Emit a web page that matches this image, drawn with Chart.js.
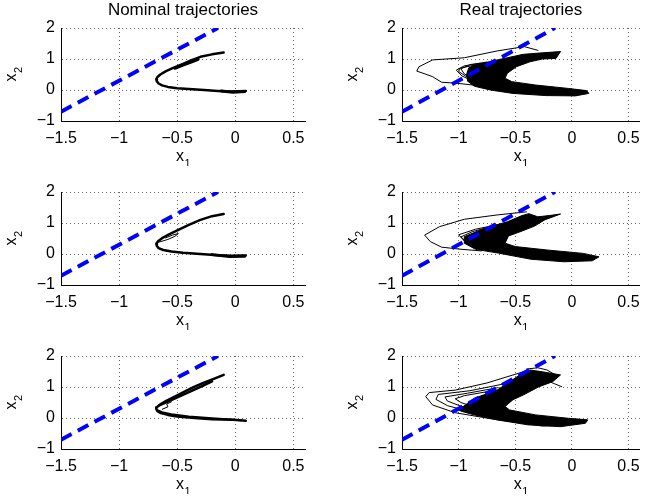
<!DOCTYPE html>
<html>
<head>
<meta charset="utf-8">
<script src="https://cdn.jsdelivr.net/npm/chart.js@4.4.0/dist/chart.umd.min.js"></script>
<style>
  body { margin: 0; background: #fff; width: 648px; height: 504px; position: relative; overflow: hidden; }
  canvas { position: absolute; }
</style>
</head>
<body>
<script>
// axis ticks shared by all six panels
const xTicks = [-1.5, -1, -0.5, 0, 0.5];
const yTicks = [-1, 0, 1, 2];
const titles = ["Nominal trajectories", "Real trajectories"];
const xLabel = ["x", "1"];
const yLabel = ["x", "2"];

// blue dashed boundary
const boundary = [[-1.5, -0.7], [-0.15, 2.0]];

// nominal trajectories (left column)
const nominal1 = [[-0.10,1.21],[-0.20,1.15],[-0.30,1.07],[-0.37,0.97],[-0.45,0.84],[-0.53,0.72],[-0.60,0.60],[-0.645,0.50],[-0.67,0.42],[-0.68,0.35],[-0.675,0.28],[-0.66,0.21],[-0.63,0.15],[-0.58,0.10],[-0.50,0.06],[-0.40,0.03],[-0.27,0.0],[-0.15,-0.03],[-0.04,-0.05],[0.09,-0.03]];
const nominal1b = [[-0.52,0.70],[-0.45,0.80],[-0.38,0.90],[-0.32,0.99]];
const nominal1c = [[-0.12,-0.03],[-0.02,-0.07],[0.08,-0.05]];

const nominal2 = [[-0.10,1.29],[-0.20,1.22],[-0.30,1.10],[-0.40,0.94],[-0.49,0.78],[-0.57,0.63],[-0.63,0.51],[-0.665,0.41],[-0.68,0.33],[-0.675,0.26],[-0.66,0.19],[-0.62,0.13],[-0.55,0.08],[-0.45,0.04],[-0.30,0.0],[-0.15,-0.04],[-0.04,-0.06],[0.09,-0.05]];
const nominal2b = [[-0.66,0.38],[-0.58,0.47],[-0.52,0.57],[-0.49,0.66],[-0.54,0.61],[-0.60,0.52]];
const nominal2c = [[-0.20,-0.02],[-0.05,-0.08],[0.08,-0.07]];

const nominal3 = [[-0.10,1.39],[-0.18,1.27],[-0.27,1.14],[-0.35,1.01],[-0.42,0.88],[-0.50,0.73],[-0.59,0.56],[-0.645,0.44],[-0.675,0.35],[-0.68,0.29],[-0.67,0.22],[-0.64,0.16],[-0.58,0.10],[-0.50,0.05],[-0.35,0.0],[-0.20,-0.04],[-0.02,-0.06],[0.09,-0.09]];
const nominal3b = [[-0.66,0.40],[-0.58,0.53],[-0.48,0.70],[-0.38,0.87],[-0.28,1.04],[-0.20,1.18]];
const nominal3c = [[-0.67,0.25],[-0.63,0.19],[-0.55,0.12],[-0.40,0.05],[-0.20,-0.01],[0.05,-0.07]];
const nominal3d = [[-0.63,0.28],[-0.58,0.36],[-0.59,0.45],[-0.55,0.52]];

// real trajectories (right column): dense band outline + stray loops
const band1 = [[-0.91,0.72],[-0.84,0.82],[-0.66,0.97],[-0.43,1.15],[-0.26,1.20],[-0.10,1.24],[-0.14,1.02],[-0.26,1.00],[-0.37,0.91],[-0.49,0.75],[-0.57,0.54],[-0.59,0.38],[-0.53,0.27],[-0.32,0.16],[-0.03,0.05],[0.13,-0.02],[0.15,-0.11],[0.03,-0.19],[-0.23,-0.18],[-0.52,-0.11],[-0.72,0.00],[-0.86,0.12],[-0.92,0.28],[-0.93,0.50],[-0.91,0.72]];
const loops1 = [
  [[-0.80,0.86],[-0.95,0.78],[-1.02,0.64],[-0.97,0.45],[-0.88,0.30],[-0.70,0.15]],
  [[-0.75,0.90],[-0.90,0.82],[-0.98,0.68],[-0.95,0.52],[-0.88,0.38]],
  [[-0.60,0.95],[-0.80,0.85],[-0.99,0.70],[-1.00,0.60],[-0.94,0.45],[-0.84,0.28],[-0.65,0.18]],
  [[-0.30,1.28],[-0.42,1.40],[-0.66,1.26],[-0.95,1.04],[-1.23,0.97],[-1.35,0.75],[-1.37,0.61],[-1.29,0.51],[-1.23,0.43],[-1.15,0.25],[-1.02,0.22],[-0.85,0.15]]
];

const band2 = [[-0.95,0.56],[-0.77,0.83],[-0.57,1.04],[-0.44,1.24],[-0.38,1.30],[-0.30,1.20],[-0.20,1.24],[-0.10,1.29],[-0.24,1.10],[-0.33,0.90],[-0.44,0.74],[-0.56,0.58],[-0.59,0.35],[-0.50,0.24],[-0.22,0.13],[0.10,0.02],[0.24,-0.09],[0.18,-0.22],[-0.07,-0.25],[-0.36,-0.17],[-0.65,0.03],[-0.85,0.15],[-0.95,0.35],[-0.95,0.56]];
const loops2 = [
  [[-0.40,1.36],[-0.66,1.26],[-0.95,1.12],[-1.17,0.88],[-1.30,0.61],[-1.25,0.40],[-1.15,0.22],[-0.97,0.15],[-0.80,0.10]],
  [[-0.75,0.85],[-0.88,0.72],[-0.98,0.55],[-0.92,0.35]],
  [[-0.65,0.95],[-0.85,0.80],[-1.00,0.62],[-0.95,0.42]]
];

const band3 = [[-1.00,0.26],[-0.86,0.64],[-0.66,0.90],[-0.46,1.39],[-0.37,1.55],[-0.26,1.49],[-0.10,1.39],[-0.17,1.17],[-0.29,1.01],[-0.43,0.74],[-0.52,0.59],[-0.59,0.37],[-0.55,0.26],[-0.32,0.10],[-0.03,-0.01],[0.14,-0.06],[0.12,-0.17],[-0.10,-0.28],[-0.39,-0.22],[-0.66,-0.06],[-0.86,0.10],[-0.97,0.21],[-1.00,0.26]];
const loops3 = [
  [[-0.40,1.58],[-0.30,1.62],[-0.22,1.55],[-0.15,1.40]],
  [[-0.42,1.50],[-0.75,1.13],[-1.03,0.90],[-1.26,0.82],[-1.29,0.69],[-1.23,0.42],[-1.03,0.17],[-0.69,-0.04],[-0.26,-0.26],[-0.06,-0.22]],
  [[-0.60,1.10],[-0.90,0.88],[-1.18,0.76],[-1.20,0.60],[-1.10,0.40],[-0.90,0.20],[-0.60,0.02]],
  [[-0.65,0.98],[-0.92,0.80],[-1.12,0.68],[-1.10,0.55],[-0.98,0.38],[-0.85,0.28]],
  [[-0.70,0.88],[-0.95,0.72],[-1.03,0.62],[-0.98,0.50],[-0.90,0.40]],
  [[-0.25,1.25],[-0.15,1.10],[-0.09,1.01]]
];

const FONT = "'Liberation Sans', Arial, Helvetica, sans-serif";
Chart.defaults.font.family = FONT;
Chart.defaults.font.size = 16;
Chart.defaults.color = "#000";

const toXY = pts => pts.map(p => ({ x: p[0], y: p[1] }));
const fmt = v => String(Math.round(v * 10) / 10).replace("-", "\u2212");

// axis labels with a real subscript (x_1, x_2), drawn as canvas text
function drawSub(ctx, parts, cx, baseline) {
  ctx.font = "16px " + FONT;
  const w1 = ctx.measureText(parts[0]).width;
  ctx.font = "11px " + FONT;
  const w2 = ctx.measureText(parts[1]).width;
  const x0 = cx - (w1 + w2) / 2;
  ctx.font = "16px " + FONT;
  ctx.fillText(parts[0], x0, baseline);
  ctx.font = "11px " + FONT;
  ctx.fillText(parts[1], x0 + w1 + 0.5, baseline + 6);
}
const subLabels = {
  id: "subLabels",
  afterDraw(chart) {
    const { ctx, chartArea: a } = chart;
    ctx.save();
    ctx.fillStyle = "#000";
    ctx.textAlign = "left";
    ctx.textBaseline = "alphabetic";
    drawSub(ctx, xLabel, (a.left + a.right) / 2, a.bottom + 40);
    ctx.translate(a.left - 45, (a.top + a.bottom) / 2);
    ctx.rotate(-Math.PI / 2);
    drawSub(ctx, yLabel, 0, 0);
    ctx.restore();
  }
};

function line(pts, w) {
  return { data: toXY(pts), showLine: true, borderColor: "#000", borderWidth: w,
           borderJoinStyle: "round", borderCapStyle: "round",
           pointRadius: 0, fill: false, order: 1 };
}
function band(pts) {
  return { data: toXY(pts), showLine: true, borderColor: "#000", backgroundColor: "#000",
           borderWidth: 1, pointRadius: 0, fill: "shape", order: 1 };
}

function panel(left, top, width, padRight, title, datasets) {
  const cv = document.createElement("canvas");
  cv.width = width; cv.height = 166;
  cv.style.left = left + "px"; cv.style.top = top + "px";
  document.body.appendChild(cv);

  datasets.unshift({ data: toXY(boundary), showLine: true, borderColor: "#0000ff", borderWidth: 4,
                     borderDash: [12, 7], pointRadius: 0, fill: false, order: 0 });

  const axisStyle = {
    grid: { color: "rgba(0,0,0,0.6)", drawTicks: false },
    border: { color: "#000", width: 1, dash: [1, 3] }
  };

  new Chart(cv, {
    type: "scatter",
    data: { datasets },
    plugins: [subLabels],
    options: {
      responsive: false,
      animation: false,
      events: [],
      layout: { padding: { top: title ? 0 : 28, right: padRight, left: 0, bottom: 0 } },
      plugins: {
        legend: { display: false },
        tooltip: { enabled: false },
        title: { display: !!title, text: title, fullSize: false, color: "#000",
                 font: { size: 17, weight: "normal" }, padding: { top: 0, bottom: 7.6 } }
      },
      scales: {
        x: {
          type: "linear", min: -1.5, max: 0.6,
          afterBuildTicks: s => { s.ticks = xTicks.map(v => ({ value: v })); },
          ticks: { padding: 8, autoSkip: false, maxRotation: 0, callback: fmt },
          ...axisStyle,
          afterFit: s => { s.height = 45; }
        },
        y: {
          type: "linear", min: -1, max: 2,
          afterBuildTicks: s => { s.ticks = yTicks.map(v => ({ value: v })); },
          ticks: { padding: 6, autoSkip: false, callback: fmt },
          ...axisStyle,
          afterFit: s => { s.width = 61; }
        }
      }
    }
  });
}

const L = [0, 320, 15], R = [341, 307, 1];
const tops = [0, 164, 328];

panel(L[0], tops[0], L[1], L[2], titles[0], [line(nominal1, 2.5), line(nominal1b, 3), line(nominal1c, 3)]);
panel(R[0], tops[0], R[1], R[2], titles[1], [band(band1), ...loops1.map(p => line(p, 1))]);
panel(L[0], tops[1], L[1], L[2], "", [line(nominal2, 2.5), line(nominal2b, 1), line(nominal2c, 3)]);
panel(R[0], tops[1], R[1], R[2], "", [band(band2), ...loops2.map(p => line(p, 1))]);
panel(L[0], tops[2], L[1], L[2], "", [line(nominal3, 2.5), line(nominal3b, 2.5), line(nominal3c, 2), line(nominal3d, 1)]);
panel(R[0], tops[2], R[1], R[2], "", [band(band3), ...loops3.map(p => line(p, 1))]);
</script>
</body>
</html>
